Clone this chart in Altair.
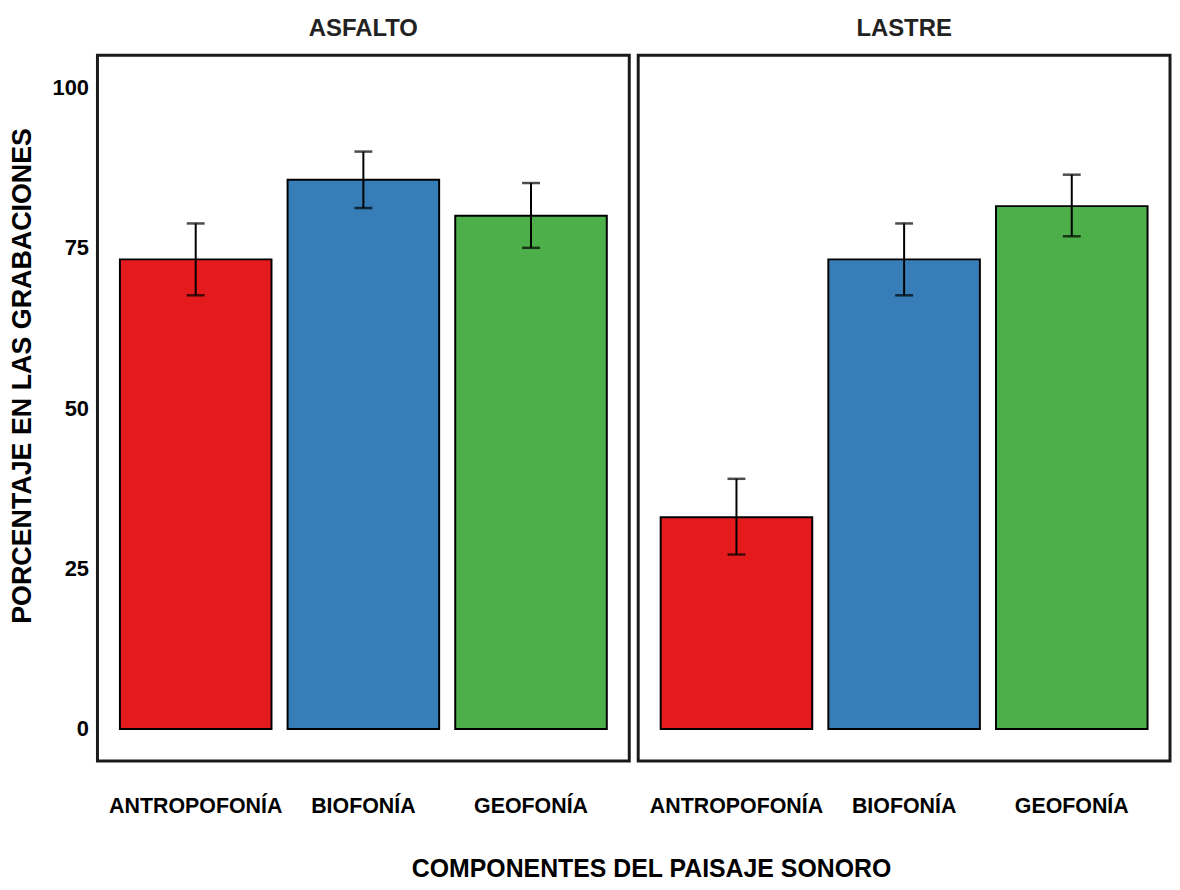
import altair as alt
import pandas as pd

superficies = ["ASFALTO", "ASFALTO", "ASFALTO", "LASTRE", "LASTRE", "LASTRE"]
componentes = ["ANTROPOFONÍA", "BIOFONÍA", "GEOFONÍA", "ANTROPOFONÍA", "BIOFONÍA", "GEOFONÍA"]
porcentajes = [73.2, 85.6, 80.0, 33.0, 73.2, 81.5]
error_inferior = [67.6, 81.2, 75.0, 27.2, 67.6, 76.8]
error_superior = [78.8, 90.0, 85.1, 39.0, 78.8, 86.4]

orden = ["ANTROPOFONÍA", "BIOFONÍA", "GEOFONÍA"]
colores = ["#E41A1C", "#377EB8", "#4DAF4A"]
ticks_y = [0, 25, 50, 75, 100]

df = pd.DataFrame({
    "superficie": superficies,
    "componente": componentes,
    "porcentaje": porcentajes,
    "inf": error_inferior,
    "sup": error_superior,
})

FONT = "Liberation Sans"

x_enc = alt.X(
    "componente:N",
    sort=orden,
    scale=alt.Scale(paddingInner=0.096, paddingOuter=0.134),
    axis=alt.Axis(
        title=None,
        labelAngle=0,
        ticks=False,
        domain=False,
        labelPadding=33,
        labelFont=FONT,
        labelFontSize=21.5,
        labelFontWeight="bold",
        labelColor="black",
    ),
)

y_enc = alt.Y(
    "porcentaje:Q",
    scale=alt.Scale(domain=[-5, 105], nice=False, zero=False),
    axis=alt.Axis(
        title="PORCENTAJE EN LAS GRABACIONES",
        values=ticks_y,
        ticks=False,
        domain=False,
        grid=False,
        labelPadding=7,
        titlePadding=16,
        titleY=322,
        labelFont=FONT,
        labelFontSize=22,
        labelFontWeight="bold",
        labelColor="black",
        titleFont=FONT,
        titleFontSize=27,
        titleFontWeight="bold",
        titleColor="black",
    ),
)

base = alt.Chart(df)

bars = base.mark_bar(stroke="black", strokeWidth=2).encode(
    x=x_enc,
    y=y_enc,
    y2=alt.datum(0),
    color=alt.Color("componente:N", scale=alt.Scale(domain=orden, range=colores), legend=None),
)

rules = base.mark_rule(color="black", strokeWidth=2).encode(
    x=alt.X("componente:N", sort=orden),
    y=alt.Y("inf:Q"),
    y2="sup:Q",
)

cap_low = base.mark_tick(color="black", size=18, thickness=2.5).encode(
    x=alt.X("componente:N", sort=orden),
    y=alt.Y("inf:Q"),
)
cap_high = base.mark_tick(color="black", size=18, thickness=2.5).encode(
    x=alt.X("componente:N", sort=orden),
    y=alt.Y("sup:Q"),
)

layer = alt.layer(bars, rules, cap_low, cap_high).properties(width=535, height=710)

chart = layer.facet(
    column=alt.Column(
        "superficie:N",
        sort=["ASFALTO", "LASTRE"],
        header=alt.Header(
            title=None,
            labelFont=FONT,
            labelFontSize=24,
            labelFontWeight="bold",
            labelColor="#222222",
            labelPadding=12,
        ),
    ),
    spacing=5,
).properties(
    padding={"left": 0, "top": 7, "right": 0, "bottom": 0},
    title=alt.TitleParams(
        text="COMPONENTES DEL PAISAJE SONORO",
        orient="bottom",
        anchor="middle",
        frame="bounds",
        font=FONT,
        fontSize=25,
        fontWeight="bold",
        color="black",
        offset=40,
        dx=62,
    ),
).configure_view(
    stroke="#1a1a1a", strokeWidth=3
).configure_axis(grid=False)

chart.save("out.html", embed_options={"renderer": "svg", "actions": False})
